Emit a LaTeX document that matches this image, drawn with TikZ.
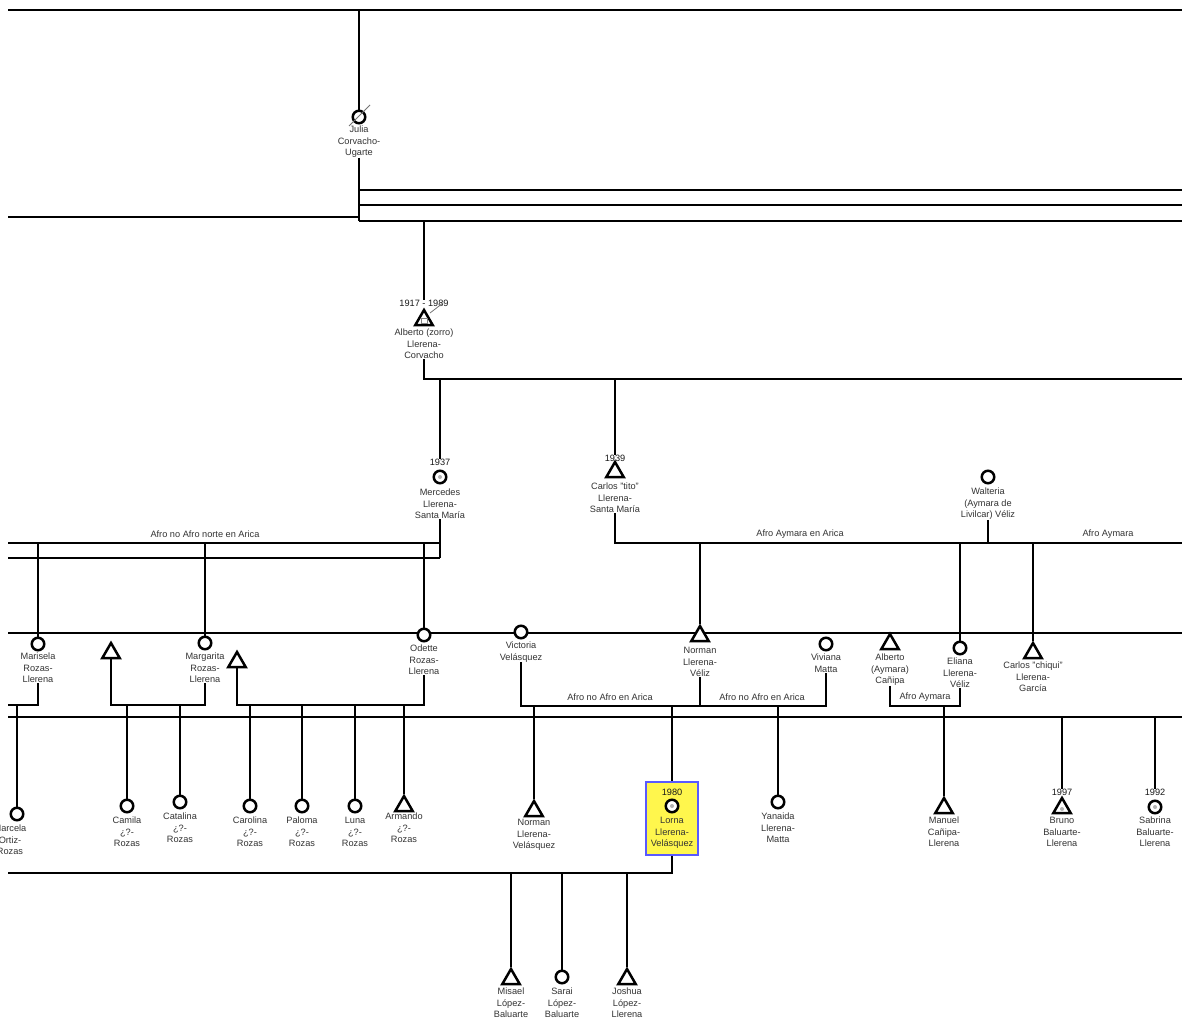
\documentclass[tikz,border=0pt]{standalone}
\usepackage{fontspec}
\setmainfont{Liberation Sans}
\usetikzlibrary{shapes.geometric,backgrounds}
\begin{document}
\begin{tikzpicture}[x=1pt,y=-1pt,
 ln/.style={line width=2pt, draw=black},
 fem/.style={circle, draw=black, line width=2.5pt, minimum size=12.5pt, inner sep=0pt, fill=white},
 mal/.style={regular polygon, regular polygon sides=3, draw=black, line width=2.5pt, minimum size=20pt, inner sep=0pt, fill=white},
 lab/.style={font=\fontsize{9.2}{11.5}\selectfont, text=black!80, align=center, inner sep=0pt, anchor=north},
 yr/.style={font=\fontsize{9.2}{10}\selectfont, text=black!90, inner sep=0pt},
 rel/.style={font=\fontsize{9.2}{10}\selectfont, text=black!80, inner sep=0pt},
 dec/.style={draw=black!55, line width=0.8pt},
 agemark/.style={circle, fill=black!30, minimum size=4pt, inner sep=0pt},
 sel/.style={draw=blue!65!white, line width=1.5pt, fill=yellow!70!white, minimum width=52pt, minimum height=73pt, inner sep=0pt}
]
\useasboundingbox (0,0) rectangle (1182,1026);
\clip (0,0) rectangle (1182,1026);

% ---------- generation 1 ----------
\node[fem] (julia) at (359,117) {};
\node[lab] (juliaL) at (359,126) {Julia\\Corvacho-\\Ugarte};
\coordinate (jtop) at (359,10);
\coordinate (j221) at (359,221);

% ---------- generation 2 ----------
\node[yr] (albY) at (424,303) {1917 - 1989};
\node[mal] (alb) at (424,320) {};
\node[draw=black!50, fill=white, line width=0.5pt, minimum width=6pt, minimum height=5pt, inner sep=0pt] (albAge) at (424,321) {};
\node[lab] (albL) at (424,329) {Alberto (zorro)\\Llerena-\\Corvacho};
\coordinate (a221) at (424,221);
\coordinate (a379) at (424,379);

% ---------- generation 3 ----------
\node[yr] (merY) at (440,462) {1937};
\node[fem] (mer) at (440,477) {};
\node[agemark] (merAge) at (440,477) {};
\node[lab] (merL) at (440,489) {Mercedes\\Llerena-\\Santa María};
\coordinate (m379) at (440,379);
\coordinate (m558) at (440,558);

\node[yr] (ctY) at (615,458) {1939};
\node[mal] (ct) at (615,472) {};
\node[lab] (ctL) at (615,483) {Carlos "tito"\\Llerena-\\Santa María};
\coordinate (c379) at (615,379);
\coordinate (c543) at (615,543);

\node[fem] (wal) at (988,477) {};
\node[lab] (walL) at (988,488) {Walteria\\(Aymara de\\Livilcar) Véliz};

\node[rel] (rel1) at (205,534) {Afro no Afro norte en Arica};
\node[rel] (rel2) at (800,534) {Afro Aymara en Arica};
\node[rel] (rel3) at (1108,534) {Afro Aymara};

% ---------- generation 4 ----------
\node[fem] (mari) at (38,644) {};
\node[lab] (mariL) at (38,653) {Marisela\\Rozas-\\Llerena};
\node[mal] (t1) at (111,653) {};
\node[fem] (marg) at (205,643) {};
\node[lab] (margL) at (205,653) {Margarita\\Rozas-\\Llerena};
\node[mal] (t2) at (237,662) {};
\node[fem] (ode) at (424,635) {};
\node[lab] (odeL) at (424,645) {Odette\\Rozas-\\Llerena};
\node[fem] (vic) at (521,632) {};
\node[lab] (vicL) at (521,642) {Victoria\\Velásquez};
\node[mal] (nor) at (700,636) {};
\node[lab] (norL) at (700,647) {Norman\\Llerena-\\Véliz};
\node[fem] (viv) at (826,644) {};
\node[lab] (vivL) at (826,654) {Viviana\\Matta};
\node[mal] (acn) at (890,644) {};
\node[lab] (acL) at (890,654) {Alberto\\(Aymara)\\Cañipa};
\node[fem] (eli) at (960,648) {};
\node[lab] (eliL) at (960,658) {Eliana\\Llerena-\\Véliz};
\node[mal] (cc) at (1033,653) {};
\node[lab] (ccL) at (1033,662) {Carlos "chiqui"\\Llerena-\\García};

\node[rel] (rel4) at (610,697) {Afro no Afro en Arica};
\node[rel] (rel5) at (762,697) {Afro no Afro en Arica};
\node[rel] (rel6) at (925,697) {Afro Aymara};

% ---------- generation 5 ----------
\node[fem] (marc) at (17,814) {};
\node[lab] (marcL) at (10,825) {Marcela\\Ortiz-\\Rozas};
\node[fem] (cami) at (127,806) {};
\node[lab] (camiL) at (127,817) {Camila\\¿?-\\Rozas};
\node[fem] (cata) at (180,802) {};
\node[lab] (cataL) at (180,813) {Catalina\\¿?-\\Rozas};
\node[fem] (caro) at (250,806) {};
\node[lab] (caroL) at (250,817) {Carolina\\¿?-\\Rozas};
\node[fem] (palo) at (302,806) {};
\node[lab] (paloL) at (302,817) {Paloma\\¿?-\\Rozas};
\node[fem] (luna) at (355,806) {};
\node[lab] (lunaL) at (355,817) {Luna\\¿?-\\Rozas};
\node[mal] (arm) at (404,806) {};
\node[lab] (armL) at (404,813) {Armando\\¿?-\\Rozas};
\node[mal] (norv) at (534,811) {};
\node[lab] (norvL) at (534,819) {Norman\\Llerena-\\Velásquez};

\node[sel] (lornaBox) at (672,818.5) {};
\node[yr] (lorY) at (672,792) {1980};
\node[fem] (lor) at (672,806) {};
\node[agemark] (lorAge) at (672,806) {};
\node[lab] (lorL) at (672,817) {Lorna\\Llerena-\\Velásquez};

\node[fem] (yan) at (778,802) {};
\node[lab] (yanL) at (778,813) {Yanaida\\Llerena-\\Matta};
\node[mal] (man) at (944,808) {};
\node[lab] (manL) at (944,817) {Manuel\\Cañipa-\\Llerena};
\node[yr] (bruY) at (1062,792) {1997};
\node[mal] (bru) at (1062,808) {};
\node[agemark] (bruAge) at (1062,809) {};
\node[lab] (bruL) at (1062,817) {Bruno\\Baluarte-\\Llerena};
\node[yr] (sabY) at (1155,792) {1992};
\node[fem] (sab) at (1155,807) {};
\node[agemark] (sabAge) at (1155,807) {};
\node[lab] (sabL) at (1155,817) {Sabrina\\Baluarte-\\Llerena};

% ---------- generation 6 ----------
\node[mal] (mis) at (511,979) {};
\node[lab] (misL) at (511,988) {Misael\\López-\\Baluarte};
\node[fem] (sar) at (562,977) {};
\node[lab] (sarL) at (562,988) {Sarai\\López-\\Baluarte};
\node[mal] (josh) at (627,979) {};
\node[lab] (joshL) at (627,988) {Joshua\\López-\\Llerena};

% deceased marks
\draw[dec] (349,126) -- (370,105);
\draw[dec] (430,313) -- (443,303);

% ---------- connectors ----------
\begin{scope}[on background layer]
\fill[white] (0,0) rectangle (1182,1026);
% top frame
\draw[ln] (8,10) -- (1182,10);
\draw[ln] (jtop) -- (julia);
\draw[ln] (juliaL.south) -- (j221);
\draw[ln] (8,217) -| (j221);
\draw[ln] (359,190) -- (1182,190);
\draw[ln] (359,205) -- (1182,205);
\draw[ln] (j221) -- (1182,221);
% Alberto
\draw[ln] (a221) -- (albY.north);
\draw[ln] (albL.south) -- (a379) -- (1182,379);
% Mercedes
\draw[ln] (m379) -- (merY.north);
\draw[ln] (merL.south) -- (m558);
\draw[ln] (8,543) -- (440,543);
\draw[ln] (8,558) -- (m558);
\draw[ln] (38,543) -- (mari);
\draw[ln] (205,543) -- (marg);
\draw[ln] (424,543) -- (ode);
% Carlos tito
\draw[ln] (c379) -- (ctY.north);
\draw[ln] (ctL.south) -- (c543) -- (1182,543);
\draw[ln] (walL.south) -- (988,543);
\draw[ln] (700,543) -- (nor);
\draw[ln] (960,543) -- (eli);
\draw[ln] (1033,543) -- (cc);
% generation 4 row
\draw[ln] (8,633) -- (1182,633);
\draw[ln] (8,705) -| (mariL.south);
\draw[ln] (t1) |- (205,705) -- (margL.south);
\draw[ln] (t2) |- (424,705) -- (odeL.south);
\draw[ln] (vicL.south) |- (826,706) -- (vivL.south);
\draw[ln] (norL.south) -- (700,706);
\draw[ln] (acL.south) |- (960,706) -- (eliL.south);
% main line
\draw[ln] (8,717) -- (1182,717);
% children
\draw[ln] (17,705) -- (marc);
\draw[ln] (127,705) -- (cami);
\draw[ln] (180,705) -- (cata);
\draw[ln] (250,705) -- (caro);
\draw[ln] (302,705) -- (palo);
\draw[ln] (355,705) -- (luna);
\draw[ln] (404,705) -- (arm);
\draw[ln] (534,706) -- (norv);
\draw[ln] (672,706) -- (lornaBox.north);
\draw[ln] (778,706) -- (yan);
\draw[ln] (944,706) -- (man);
\draw[ln] (1062,717) -- (bruY.north);
\draw[ln] (1155,717) -- (sabY.north);
% Lorna's children
\draw[ln] (lornaBox.south) -- (672,873) -- (8,873);
\draw[ln] (511,873) -- (mis);
\draw[ln] (562,873) -- (sar);
\draw[ln] (627,873) -- (josh);
\end{scope}
\end{tikzpicture}
\end{document}
